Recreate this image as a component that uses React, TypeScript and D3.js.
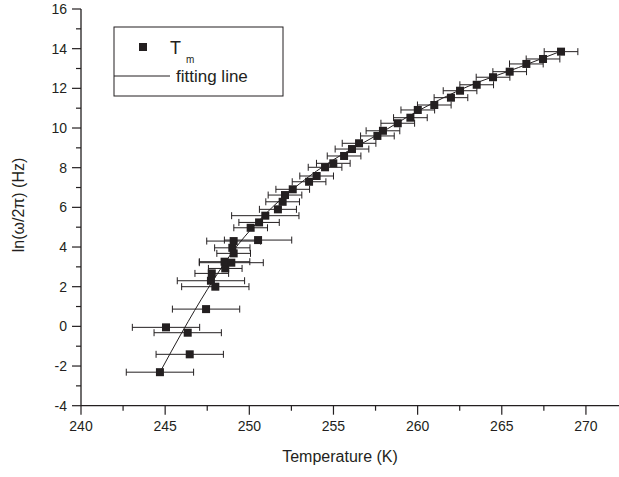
import React from "react";
import * as d3 from "d3";

const temps = [244.69, 245.05, 246.34, 246.46, 247.43, 247.72, 247.77, 247.98, 248.57, 248.53, 248.93, 248.99, 249.07, 249.07, 250.52, 250.08, 250.58, 250.95, 251.7, 251.98, 252.12, 252.58, 253.55, 254.0, 254.5, 254.99, 255.63, 256.1, 256.52, 257.61, 257.94, 258.82, 259.57, 260.01, 260.99, 261.98, 262.52, 263.51, 264.48, 265.47, 266.46, 267.45, 268.52];
const lnFreq = [-2.31, -0.05, -0.32, -1.41, 0.87, 2.3, 2.67, 2.0, 2.92, 3.26, 3.21, 3.96, 3.68, 4.3, 4.35, 4.97, 5.24, 5.58, 5.9, 6.28, 6.62, 6.91, 7.29, 7.58, 8.02, 8.22, 8.59, 8.94, 9.23, 9.6, 9.86, 10.24, 10.52, 10.91, 11.16, 11.53, 11.88, 12.18, 12.56, 12.84, 13.23, 13.48, 13.85];
const tempErr = [2.0, 2.0, 2.0, 2.0, 2.0, 2.0, 1.0, 2.0, 1.0, 1.5, 1.9, 1.05, 1.0, 1.6, 2.0, 1.0, 1.2, 2.0, 1.1, 1.0, 1.0, 1.0, 1.0, 1.0, 1.0, 1.0, 1.0, 1.0, 1.0, 1.0, 1.0, 1.0, 1.0, 1.0, 1.0, 1.0, 1.0, 1.0, 1.0, 1.0, 1.0, 1.0, 1.0];

const fitT = [244.7, 246, 247.5, 249, 251, 253, 255, 257.5, 260, 263, 266, 268.6];
const fitV = [-2.3, -0.3, 1.85, 3.75, 5.7, 7.2, 8.4, 9.6, 10.85, 12.1, 13.05, 13.9];

const xTicks = [240, 245, 250, 255, 260, 265, 270];
const yTicks = [-4, -2, 0, 2, 4, 6, 8, 10, 12, 14, 16];

export default function App() {
  const W = 619, H = 477;
  const x = d3.scaleLinear().domain([240, 272]).range([81, 619.6]);
  const y = d3.scaleLinear().domain([-4, 16]).range([405.7, 9]);
  const ink = "#231f20";
  const font = "'Liberation Sans', Arial, sans-serif";

  const fitLine = d3
    .line<number>()
    .x((_, i) => x(fitT[i]))
    .y((_, i) => y(fitV[i]))
    .curve(d3.curveMonotoneX)(fitT) as string;

  const xMinor = d3.range(242.5, 272, 5);
  const yMinor = d3.range(-3, 16, 2);
  const x0 = x(240), y0 = y(-4);

  return (
    <svg width={W} height={H} style={{ position: "absolute", left: 0, top: 0, background: "#fff" }} fontFamily={font}>
      {/* axes */}
      <line x1={x0} x2={x0} y1={y(16)} y2={y0} stroke={ink} strokeWidth={1.3} />
      <line x1={x0} x2={W} y1={y0} y2={y0} stroke={ink} strokeWidth={1.3} />
      {yTicks.map((t) => (
        <g key={"yt" + t}>
          <line x1={x0 - 9} x2={x0} y1={y(t)} y2={y(t)} stroke={ink} strokeWidth={1.2} />
          <text x={x0 - 14} y={y(t) + 5} fontSize={14} textAnchor="end" fill={ink}>{t}</text>
        </g>
      ))}
      {yMinor.map((t) => (
        <line key={"ym" + t} x1={x0 - 5} x2={x0} y1={y(t)} y2={y(t)} stroke={ink} strokeWidth={1.2} />
      ))}
      {xTicks.map((t) => (
        <g key={"xt" + t}>
          <line x1={x(t)} x2={x(t)} y1={y0} y2={y0 + 9} stroke={ink} strokeWidth={1.2} />
          <text x={x(t)} y={y0 + 25} fontSize={14} textAnchor="middle" fill={ink}>{t}</text>
        </g>
      ))}
      {xMinor.map((t) => (
        <line key={"xm" + t} x1={x(t)} x2={x(t)} y1={y0} y2={y0 + 5} stroke={ink} strokeWidth={1.2} />
      ))}
      <text x={340} y={462} fontSize={16} textAnchor="middle" fill={ink}>Temperature (K)</text>
      <text transform={`translate(24,205) rotate(-90)`} fontSize={16} textAnchor="middle" fill={ink}>ln(ω/2π) (Hz)</text>

      {/* error bars */}
      {temps.map((t, i) => {
        const cy = y(lnFreq[i]);
        const xl = x(t - tempErr[i]);
        const xr = x(t + tempErr[i]);
        return (
          <g key={"e" + i} stroke={ink} strokeWidth={1}>
            <line x1={xl} x2={xr} y1={cy} y2={cy} />
            <line x1={xl} x2={xl} y1={cy - 3.5} y2={cy + 3.5} />
            <line x1={xr} x2={xr} y1={cy - 3.5} y2={cy + 3.5} />
          </g>
        );
      })}
      {/* fit line */}
      <path d={fitLine} fill="none" stroke={ink} strokeWidth={1} />
      {/* markers */}
      {temps.map((t, i) => (
        <rect key={"m" + i} x={x(t) - 4} y={y(lnFreq[i]) - 4} width={8} height={8} fill={ink} />
      ))}

      {/* legend */}
      <rect x={114} y={27} width={169} height={69} fill="#fff" stroke={ink} strokeWidth={1} />
      <rect x={139} y={43} width={8} height={8} fill={ink} />
      <text x={170} y={54} fontSize={18} fill={ink}>T</text>
      <text x={186} y={63} fontSize={10} fill={ink}>m</text>
      <line x1={114} x2={170} y1={76} y2={76} stroke={ink} strokeWidth={1} />
      <text x={176} y={82} fontSize={17} fill={ink}>fitting line</text>
    </svg>
  );
}
